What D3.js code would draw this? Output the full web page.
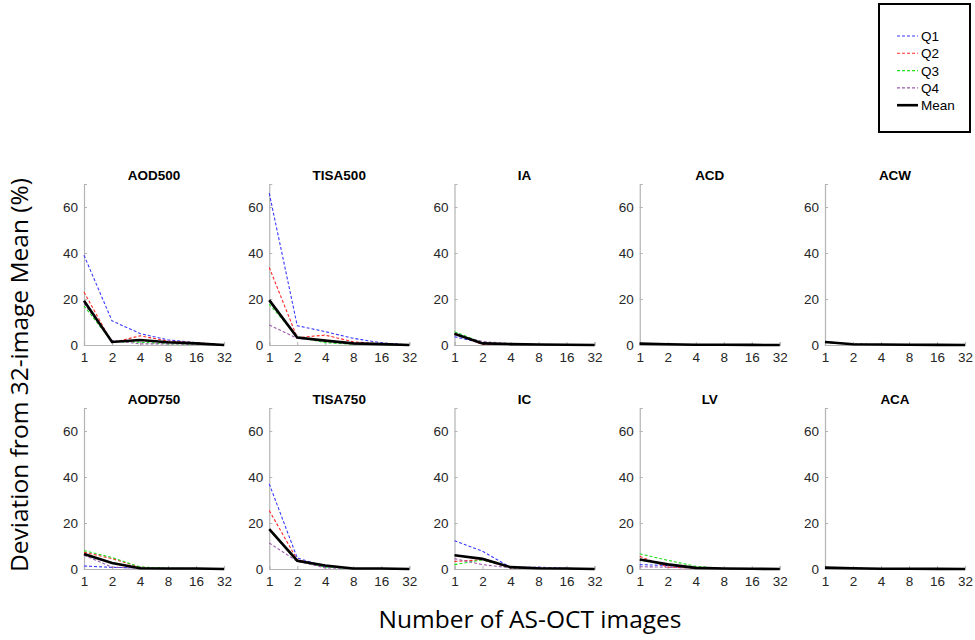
<!DOCTYPE html>
<html><head><meta charset="utf-8">
<script src="https://cdn.jsdelivr.net/npm/d3@7"></script>
<style>body{margin:0;background:#fff}svg{display:block}</style>
</head><body>
<script>
// ---- data ----
const xValues = [1, 2, 4, 8, 16, 32];
const yTicks = [0, 20, 40, 60];
const panels = ["AOD500", "TISA500", "IA", "ACD", "ACW", "AOD750", "TISA750", "IC", "LV", "ACA"];
const seriesNames = ["Q1", "Q2", "Q3", "Q4", "Mean"];

const AOD500_Q1 = [39, 10.5, 5, 2.2, 1, 0];
const AOD500_Q2 = [23, 1, 4, 1.7, 1, 0];
const AOD500_Q3 = [17, 1.5, 1.2, 0.5, 0.3, 0];
const AOD500_Q4 = [18, 2, 0.5, 0.5, 0.3, 0];
const AOD500_Mean = [19.2, 1.3, 2.2, 1.2, 0.7, 0];

const TISA500_Q1 = [66, 8.4, 5.8, 2.9, 1, 0];
const TISA500_Q2 = [33.7, 3.2, 4.3, 1.4, 0.5, 0];
const TISA500_Q3 = [17.8, 3.6, 1, 0.3, 0.2, 0];
const TISA500_Q4 = [8.7, 2.9, 2, 0.5, 0.3, 0];
const TISA500_Mean = [19.5, 3.2, 1.9, 0.7, 0.4, 0];

const IA_Q1 = [3.6, 0.8, 0.5, 0.2, 0.1, 0];
const IA_Q2 = [5, 0.2, 0.3, 0.2, 0.1, 0];
const IA_Q3 = [5.8, 1, 0.4, 0.2, 0.1, 0];
const IA_Q4 = [4.5, 1.5, 0.6, 0.2, 0.1, 0];
const IA_Mean = [4.9, 0.7, 0.4, 0.2, 0.1, 0];

const ACD_Q1 = [0.5, 0.3, 0.1, 0.1, 0.05, 0];
const ACD_Q2 = [0.6, 0.3, 0.1, 0.1, 0.05, 0];
const ACD_Q3 = [0.6, 0.3, 0.1, 0.1, 0.05, 0];
const ACD_Q4 = [0.7, 0.3, 0.1, 0.1, 0.05, 0];
const ACD_Mean = [0.6, 0.3, 0.1, 0.1, 0.05, 0];

const ACW_Q1 = [1.5, 0.3, 0.2, 0.1, 0.05, 0];
const ACW_Q2 = [1.2, 0.3, 0.2, 0.1, 0.05, 0];
const ACW_Q3 = [1.1, 0.3, 0.2, 0.1, 0.05, 0];
const ACW_Q4 = [1.3, 0.3, 0.2, 0.1, 0.05, 0];
const ACW_Mean = [1.3, 0.3, 0.2, 0.1, 0.05, 0];

const AOD750_Q1 = [1.3, 0.7, 0.5, 0.2, 0.2, 0];
const AOD750_Q2 = [7.3, 4.5, 0.8, 0.2, 0.2, 0];
const AOD750_Q3 = [8, 5, 0.9, 0.3, 0.2, 0];
const AOD750_Q4 = [6, 0.8, 0.3, 0.2, 0.2, 0];
const AOD750_Mean = [6.5, 2.6, 0.3, 0.2, 0.2, 0];

const TISA750_Q1 = [37, 4.8, 1, 0.2, 0.2, 0];
const TISA750_Q2 = [25.4, 4, 1.5, 0.2, 0.2, 0];
const TISA750_Q3 = [17, 3.5, 0.8, 0.2, 0.2, 0];
const TISA750_Q4 = [11.3, 3.3, 0.5, 0.2, 0.2, 0];
const TISA750_Mean = [17.3, 3.6, 1.5, 0.2, 0.2, 0];

const IC_Q1 = [12.3, 7.7, 0.7, 0.8, 0.3, 0];
const IC_Q2 = [3.3, 4, 0.5, 0.3, 0.2, 0];
const IC_Q3 = [1.9, 4, 0.6, 0.3, 0.2, 0];
const IC_Q4 = [4.5, 1.9, 0.5, 0.3, 0.2, 0];
const IC_Mean = [6, 4.4, 0.8, 0.3, 0.2, 0];

const LV_Q1 = [1.9, 1.5, 0.4, 0.2, 0.1, 0];
const LV_Q2 = [5.5, 0.8, 0.4, 0.2, 0.1, 0];
const LV_Q3 = [6.6, 3.8, 1.2, 0.2, 0.1, 0];
const LV_Q4 = [1, 0.8, 0.3, 0.2, 0.1, 0];
const LV_Mean = [4.1, 2, 0.5, 0.2, 0.1, 0];

const ACA_Q1 = [0.7, 0.3, 0.1, 0.1, 0.05, 0];
const ACA_Q2 = [0.6, 0.3, 0.1, 0.1, 0.05, 0];
const ACA_Q3 = [0.6, 0.3, 0.1, 0.1, 0.05, 0];
const ACA_Q4 = [0.7, 0.3, 0.1, 0.1, 0.05, 0];
const ACA_Mean = [0.6, 0.3, 0.1, 0.1, 0.05, 0];

const dataTable = {
  AOD500: [AOD500_Q1, AOD500_Q2, AOD500_Q3, AOD500_Q4, AOD500_Mean],
  TISA500: [TISA500_Q1, TISA500_Q2, TISA500_Q3, TISA500_Q4, TISA500_Mean],
  IA: [IA_Q1, IA_Q2, IA_Q3, IA_Q4, IA_Mean],
  ACD: [ACD_Q1, ACD_Q2, ACD_Q3, ACD_Q4, ACD_Mean],
  ACW: [ACW_Q1, ACW_Q2, ACW_Q3, ACW_Q4, ACW_Mean],
  AOD750: [AOD750_Q1, AOD750_Q2, AOD750_Q3, AOD750_Q4, AOD750_Mean],
  TISA750: [TISA750_Q1, TISA750_Q2, TISA750_Q3, TISA750_Q4, TISA750_Mean],
  IC: [IC_Q1, IC_Q2, IC_Q3, IC_Q4, IC_Mean],
  LV: [LV_Q1, LV_Q2, LV_Q3, LV_Q4, LV_Mean],
  ACA: [ACA_Q1, ACA_Q2, ACA_Q3, ACA_Q4, ACA_Mean]
};

// ---- styles ----
const colors = ["#3a3aff", "#ff2a2a", "#22dd22", "#9a5aaa", "#000"];
const W = 975, H = 640;
const svg = d3.select("body").append("svg").attr("width", W).attr("height", H);
const font = "'Liberation Sans', Arial, sans-serif";

const pw = 140, colStep = 185.25, x0 = 84;
const rows = [{bottom: 345, top: 184}, {bottom: 569, top: 408}];

panels.forEach((name, i) => {
  const col = i % 5, row = Math.floor(i / 5);
  const left = x0 + col * colStep;
  const x = d3.scaleLog().base(2).domain([1, 32]).range([left, left + pw]);
  const y = d3.scaleLinear().domain([0, 70]).range([rows[row].bottom, rows[row].top]);
  const g = svg.append("g");

  const ya = g.append("g").attr("transform", `translate(${left},0)`)
    .call(d3.axisLeft(y).tickValues(yTicks).tickSize(-3).tickPadding(6).tickFormat(d3.format("d")));
  const xa = g.append("g").attr("transform", `translate(0,${rows[row].bottom})`)
    .call(d3.axisBottom(x).tickValues(xValues).tickSize(-3).tickPadding(7).tickFormat(d3.format("d")));
  [ya, xa].forEach(a => {
    a.select(".domain").attr("stroke", "#b4b4b4").attr("stroke-width", 1.2);
    a.selectAll(".tick line").attr("stroke", "#b4b4b4");
    a.selectAll("text").attr("font-family", font).attr("font-size", 13.5).attr("fill", "#262626");
  });

  g.append("text").attr("x", left + pw / 2).attr("y", rows[row].top - 4)
    .attr("text-anchor", "middle").attr("font-family", font).attr("font-weight", "bold")
    .attr("font-size", 13.5).attr("fill", "#000").text(name);

  const line = d3.line().x((d, j) => x(xValues[j])).y(d => y(d));
  dataTable[name].forEach((vals, s) => {
    const isMean = s === 4;
    g.append("path").datum(vals).attr("d", line).attr("fill", "none")
      .attr("stroke", colors[s]).attr("stroke-width", isMean ? 2.6 : 1.1)
      .attr("stroke-dasharray", isMean ? null : "3,2");
  });
});

// legend
const lg = svg.append("g");
lg.append("rect").attr("x", 879).attr("y", 4).attr("width", 91).attr("height", 128)
  .attr("fill", "#fff").attr("stroke", "#000").attr("stroke-width", 2);
seriesNames.forEach((n, s) => {
  const yy = 36 + s * 17.3;
  lg.append("line").attr("x1", 897).attr("x2", 918).attr("y1", yy).attr("y2", yy)
    .attr("stroke", colors[s]).attr("stroke-width", s === 4 ? 2.6 : 1.1)
    .attr("stroke-dasharray", s === 4 ? null : "3,2");
  lg.append("text").attr("x", 921).attr("y", yy + 5).attr("font-family", font)
    .attr("font-size", 13.5).attr("fill", "#000").text(n);
});

// axis labels
svg.append("text").attr("transform", "translate(28,375) rotate(-90)")
  .attr("text-anchor", "middle").attr("font-family", "'Open Sans', Lato, sans-serif")
  .attr("font-size", 24.5).attr("fill", "#000").text("Deviation from 32-image Mean (%)");
svg.append("text").attr("x", 530).attr("y", 628)
  .attr("text-anchor", "middle").attr("font-family", "'Open Sans', Lato, sans-serif")
  .attr("font-size", 24.5).attr("fill", "#000").text("Number of AS-OCT images");
</script>
</body></html>
